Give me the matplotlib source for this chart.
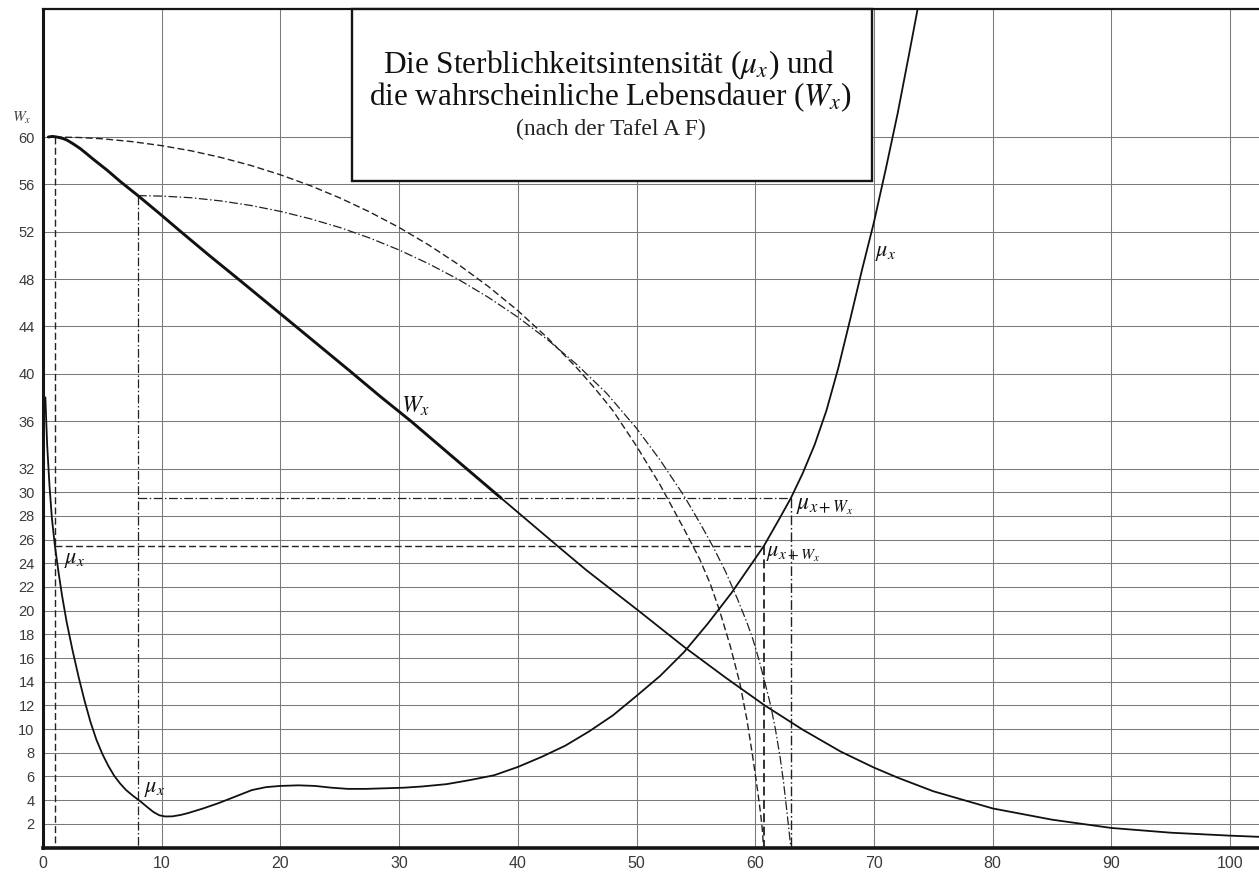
import matplotlib
matplotlib.use('Agg')
import matplotlib.pyplot as plt
from matplotlib.patches import Rectangle

plt.rcParams['mathtext.fontset'] = 'stix'

# ---------------- data ----------------
# probable remaining lifetime W_x (thick upper part, thinner lower part)
w_age = [0.45, 0.8, 1.15, 1.6, 2.0, 2.5, 3.1, 3.6, 4.2, 5.4, 6.5, 8.0, 9.8, 11.5, 14.0,
         16.7, 20.7, 25.9, 28.4, 31.0, 34.5, 38.6]
w_val = [60.0, 60.05, 60.0, 59.9, 59.75, 59.45, 59.05, 58.65, 58.15, 57.2, 56.25, 55.05, 53.55,
         52.1, 50.0, 47.8, 44.5, 40.2, 38.1, 36.0, 33.0, 29.5]
w_age2 = [38.6, 43.3, 45.8, 50.1, 54.0, 57.5, 60.8, 64.0, 67.2, 70.0, 72.0, 75.0, 80.0, 85.0,
          90.0, 95.0, 100.0, 102.5]
w_val2 = [29.5, 25.5, 23.4, 20.05, 16.95, 14.35, 12.0, 9.95, 8.1, 6.75, 5.9, 4.75, 3.3, 2.35,
          1.65, 1.25, 1.0, 0.9]

# force of mortality mu_x
mu_age = [0.2, 0.35, 0.55, 0.75, 1.0, 1.3, 1.6, 2.0, 2.5, 3.0, 3.5, 4.0, 4.5, 5.0, 5.5, 6.0,
          6.5, 7.0, 7.6, 8.2, 8.8, 9.3, 9.8, 10.3, 10.9, 11.6, 12.2, 13.5, 14.8, 16.2, 17.6,
          18.8, 20.0, 21.5, 22.9, 24.3, 25.7, 27.2, 28.8, 30.4, 31.9, 34.0, 36.0, 38.0, 40.0,
          42.0, 44.0, 46.0, 48.0, 50.0, 52.0, 54.0, 56.0, 58.0, 60.0, 60.75, 62.0, 63.0, 64.0,
          65.0, 66.0, 67.0, 68.0, 69.0, 70.0, 71.0, 72.0, 73.0, 74.0]
mu_val = [38.0, 34.0, 30.5, 27.8, 25.5, 23.3, 21.3, 19.0, 16.6, 14.4, 12.4, 10.6, 9.1, 7.9, 6.9,
          6.05, 5.4, 4.85, 4.35, 3.9, 3.4, 3.0, 2.72, 2.62, 2.63, 2.75, 2.9, 3.3, 3.75, 4.3,
          4.85, 5.1, 5.2, 5.25, 5.2, 5.05, 4.95, 4.95, 5.0, 5.05, 5.15, 5.35, 5.7, 6.1, 6.8,
          7.65, 8.6, 9.8, 11.15, 12.8, 14.5, 16.5, 18.9, 21.5, 24.4, 25.5, 27.7, 29.5, 31.6,
          34.0, 36.9, 40.5, 44.6, 48.8, 52.8, 57.3, 62.0, 67.2, 72.5]

# construction arcs
arc1_x = [1.0, 3, 5, 7.5, 10, 12.5, 15, 17.5, 20, 22.5, 25, 27.5, 30, 32.5, 35, 37.5, 40,
          42.5, 45, 46.5, 48, 50, 52, 54, 55.3, 56.2, 57.0, 57.9, 58.7, 59.3, 59.8, 60.2,
          60.45, 60.6, 60.7]
arc1_y = [60.0, 59.96, 59.85, 59.61, 59.27, 58.83, 58.27, 57.6, 56.81, 55.9, 54.86, 53.68,
          52.36, 50.88, 49.23, 47.39, 45.34, 43.04, 40.47, 38.76, 36.91, 33.9, 30.6, 26.9,
          24.4, 22.3, 20.0, 17.0, 13.9, 10.8, 7.6, 4.8, 2.9, 1.5, 0.0]
arc2_x = [8.0, 10, 12.5, 15, 17.5, 20, 22.5, 25, 27.5, 30, 32.5, 35, 37.5, 40, 42.5, 45,
          47.5, 50, 52, 54, 55.4, 56.5, 57.5, 58.5, 59.3, 59.8, 60.3, 60.8, 61.3, 61.7, 62.1,
          62.4, 62.65, 62.85, 63.0]
arc2_y = [55.05, 55.01, 54.87, 54.6, 54.22, 53.72, 53.1, 52.36, 51.48, 50.46, 49.29, 47.97,
          46.47, 44.79, 42.89, 40.76, 38.34, 35.4, 32.7, 29.7, 27.3, 25.3, 23.3, 21.0, 19.0,
          17.6, 15.9, 14.0, 12.0, 10.0, 7.6, 5.4, 3.2, 1.4, 0.0]

# construction ages: x, W_x, x+W_x, mu_(x+W_x)
c_age = [1.0, 8.0]
c_w = [60.0, 55.05]
c_age_w = [60.75, 63.0]
c_mu = [25.5, 29.5]

x_ticks = [0, 10, 20, 30, 40, 50, 60, 70, 80, 90, 100]
y_ticks = [2, 4, 6, 8, 10, 12, 14, 16, 18, 20, 22, 24, 26, 28, 30, 32, 36, 40, 44, 48, 52, 56, 60]

title1 = r"Die Sterblichkeitsintensität ($\mu_x$) und"
title2 = r"die wahrscheinliche Lebensdauer ($W_x$)"
title3 = "(nach der Tafel A F)"

# ---------------- figure ----------------
W, H = 1259, 872
fig = plt.figure(figsize=(W / 100, H / 100), dpi=100)
ax = fig.add_axes([43 / W, (H - 847.5) / H, (W - 43) / W, (847.5 - 9) / H])
ax.set_xlim(0, 102.44)
ax.set_ylim(0, 70.81)

ax.set_xticks(x_ticks)
ax.set_yticks(y_ticks)
ax.grid(True, color='#7a7a7a', linewidth=0.75)
ax.set_axisbelow(True)
ax.tick_params(length=0, colors='#333333')
ax.tick_params(axis='x', pad=6, labelsize=11.5)
ax.tick_params(axis='y', pad=6, labelsize=10.5)
for lab in ax.get_xticklabels() + ax.get_yticklabels():
    lab.set_fontfamily(['Liberation Sans Narrow', 'Liberation Sans', 'DejaVu Sans'])
    lab.set_color('#3a3a3a')

ax.spines['right'].set_visible(False)
ax.spines['left'].set_linewidth(2.2)
ax.spines['bottom'].set_linewidth(2.6)
ax.spines['top'].set_linewidth(1.6)
for s in ax.spines.values():
    s.set_color('#151515')

# curves
ax.plot(w_age, w_val, color='#111111', lw=2.1, solid_capstyle='round',
        solid_joinstyle='round', zorder=4)
ax.plot(w_age2, w_val2, color='#111111', lw=1.3, solid_capstyle='round',
        solid_joinstyle='round', zorder=4)
ax.plot(mu_age, mu_val, color='#111111', lw=1.3, solid_joinstyle='round', zorder=4)

dash = (5, 2.4)
dashdot = (7, 2, 1.2, 2)
ax.plot(arc1_x, arc1_y, color='#222222', lw=1.0, dashes=dash, zorder=3)
ax.plot(arc2_x, arc2_y, color='#222222', lw=0.9, dashes=dashdot, zorder=3)

# construction lines for the first age (dashed)
ax.plot([c_age[0], c_age[0]], [c_w[0], 0], color='#222222', lw=1.0, dashes=dash, zorder=3)
ax.plot([c_age[0], c_age_w[0]], [c_mu[0], c_mu[0]], color='#222222', lw=1.0, dashes=dash, zorder=3)
ax.plot([c_age_w[0], c_age_w[0]], [c_mu[0], 0], color='#222222', lw=1.3, dashes=dash, zorder=3)
# construction lines for the second age (dash-dot)
ax.plot([c_age[1], c_age[1]], [c_w[1], 0], color='#222222', lw=0.9, dashes=dashdot, zorder=3)
ax.plot([c_age[1], c_age_w[1]], [c_mu[1], c_mu[1]], color='#222222', lw=0.9, dashes=dashdot, zorder=3)
ax.plot([c_age_w[1], c_age_w[1]], [c_mu[1], 0], color='#222222', lw=1.0, dashes=dashdot, zorder=3)

# title box
box = Rectangle((26.03, 56.28), 69.84 - 26.03, 70.81 - 56.28, facecolor='white',
                edgecolor='#151515', lw=1.7, zorder=5, clip_on=False)
ax.add_patch(box)
serif = ['Liberation Serif', 'DejaVu Serif']
ax.text(47.7, 66.05, title1, ha='center', va='center', fontsize=22.5, family=serif,
        color='#111111', zorder=6)
ax.text(47.8, 63.35, title2, ha='center', va='center', fontsize=22.5, family=serif,
        color='#111111', zorder=6)
ax.text(47.8, 60.65, title3, ha='center', va='center', fontsize=17, family=serif,
        color='#222222', zorder=6)

# curve labels
lab_kw = dict(color='#111111', zorder=6, va='center', ha='left')
ax.text(30.2, 36.7, r"$W_x$", fontsize=17, va='baseline', ha='left', color='#111111', zorder=6)
ax.text(1.8, 24.3, r"$\mu_x$", fontsize=16, **lab_kw)
ax.text(8.5, 4.9, r"$\mu_x$", fontsize=16, **lab_kw)
ax.text(70.1, 50.2, r"$\mu_x$", fontsize=16, **lab_kw)
ax.text(63.4, 28.9, r"$\mu_{x+W_x}$", fontsize=17, **lab_kw)
ax.text(60.95, 24.8, r"$\mu_{x+W_x}$", fontsize=16, **lab_kw)

# y-axis label
fig.text(12 / W, (H - 118) / H, r"$W_x$", fontsize=11, color='#444444', ha='left', va='center')

fig.savefig('out.png', dpi=100, facecolor='white')
